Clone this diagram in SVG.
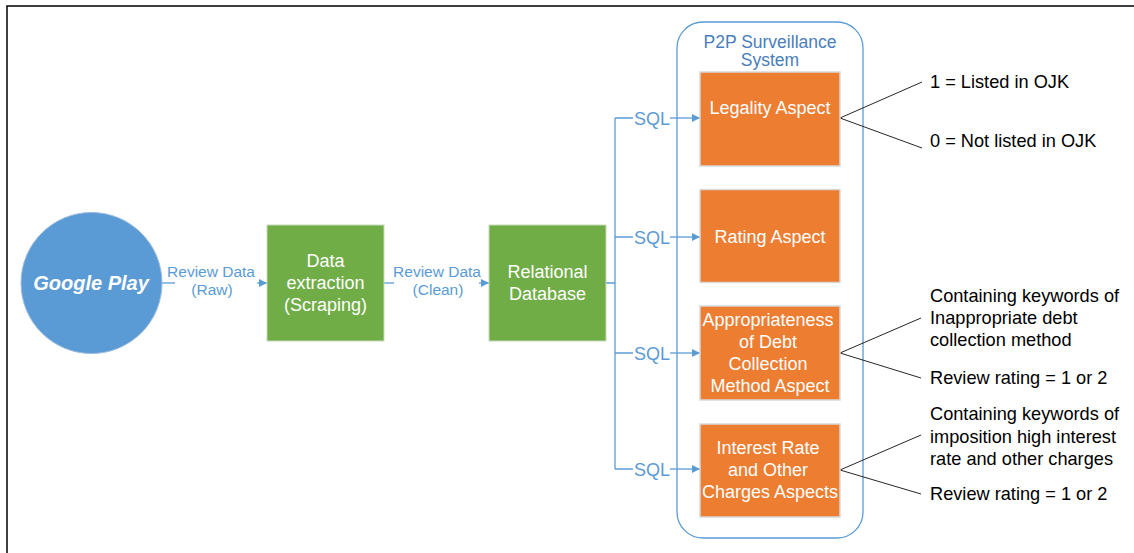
<svg xmlns="http://www.w3.org/2000/svg" width="1134" height="553" viewBox="0 0 1134 553">
<style>
text{font-family:"Liberation Sans",Arial,sans-serif}
.w{fill:#fff;font-size:18px;text-anchor:middle}
.lbl{fill:#5b9bd5;font-size:15.5px;text-anchor:middle}
.sql{fill:#5b9bd5;font-size:18px;text-anchor:middle}
.k{fill:#000;font-size:18.2px}
.c{fill:none;stroke:#5b9bd5;stroke-width:1.3}
.a{fill:none;stroke:#262626;stroke-width:1}
.g{fill:#70ad47;stroke:#c9d9bd;stroke-width:1}
.o{fill:#ed7d31;stroke:#d9d9d9;stroke-width:1.5}
</style>
<defs>
<marker id="ar" viewBox="0 0 10 10" refX="10" refY="5" markerWidth="8" markerHeight="8" markerUnits="userSpaceOnUse" orient="auto">
<path d="M0,0 L10,5 L0,10 Z" fill="#5b9bd5"/>
</marker>
</defs>
<rect width="1134" height="553" fill="#fff"/>
<path d="M7,553 V6 H1134" fill="none" stroke="#000" stroke-width="1.5"/>

<g id="container">
<rect x="677" y="22" width="186" height="516" rx="26" fill="none" stroke="#5b9bd5" stroke-width="1.3"/>
<text x="770" y="48" text-anchor="middle" font-size="17.5" fill="#4a7ebb">P2P Surveillance</text>
<text x="770" y="66" text-anchor="middle" font-size="17.5" fill="#4a7ebb">System</text>
</g>

<g id="connectors">
<path class="c" d="M162,283 H175"/>
<path class="c" d="M257,283 H267" marker-end="url(#ar)"/>
<text class="lbl" x="211" y="277">Review Data</text>
<text class="lbl" x="212" y="295">(Raw)</text>
<path class="c" d="M384,283 H394"/>
<path class="c" d="M479,283 H489" marker-end="url(#ar)"/>
<text class="lbl" x="437" y="277">Review Data</text>
<text class="lbl" x="438" y="295">(Clean)</text>
<path class="c" d="M606,283 H615 M615,118 V469"/>
<path class="c" d="M615,118 H633 M615,237 H633 M615,353 H633 M615,469 H633"/>
<path class="c" d="M670,118 H700" marker-end="url(#ar)"/>
<path class="c" d="M670,237 H700" marker-end="url(#ar)"/>
<path class="c" d="M670,353 H700" marker-end="url(#ar)"/>
<path class="c" d="M670,469 H700" marker-end="url(#ar)"/>
<text class="sql" x="652" y="124.5">SQL</text>
<text class="sql" x="652" y="243.5">SQL</text>
<text class="sql" x="652" y="359.5">SQL</text>
<text class="sql" x="652" y="475.5">SQL</text>
<path class="a" d="M840,118 L922,82 M840,118 L922,148"/>
<path class="a" d="M840,353 L921,318 M840,353 L921,378"/>
<path class="a" d="M840,470 L921,435 M840,470 L921,494"/>
</g>

<g id="google-play">
<circle cx="91.5" cy="283" r="70.5" fill="#5b9bd5" stroke="#9cbde0" stroke-width="1"/>
<text x="91" y="290" text-anchor="middle" font-size="20" font-weight="bold" font-style="italic" fill="#fff">Google Play</text>
</g>

<g id="data-extraction">
<rect class="g" x="267" y="225" width="117" height="116"/>
<text class="w" x="325.5" y="267">Data</text>
<text class="w" x="325.5" y="289">extraction</text>
<text class="w" x="325.5" y="311">(Scraping)</text>
</g>

<g id="relational-database">
<rect class="g" x="489" y="225" width="117" height="116"/>
<text class="w" x="547.5" y="278">Relational</text>
<text class="w" x="547.5" y="300">Database</text>
</g>

<g id="legality-aspect">
<rect class="o" x="700" y="72" width="140" height="94"/>
<text class="w" x="770" y="114">Legality Aspect</text>
</g>

<g id="rating-aspect">
<rect class="o" x="700" y="189.5" width="140" height="93"/>
<text class="w" x="770" y="243">Rating Aspect</text>
</g>

<g id="debt-collection-aspect">
<rect class="o" x="700" y="306" width="140" height="94"/>
<text class="w" x="768" y="326">Appropriateness</text>
<text class="w" x="768" y="348">of Debt</text>
<text class="w" x="768" y="370">Collection</text>
<text class="w" x="770" y="392">Method Aspect</text>
</g>

<g id="interest-rate-aspect">
<rect class="o" x="700" y="424" width="140" height="93"/>
<text class="w" x="768" y="454">Interest Rate</text>
<text class="w" x="768" y="476">and Other</text>
<text class="w" x="770" y="498">Charges Aspects</text>
</g>

<g id="annotations">
<text class="k" x="930" y="88">1 = Listed in OJK</text>
<text class="k" x="930" y="147">0 = Not listed in OJK</text>
<text class="k" x="930" y="302">Containing keywords of</text>
<text class="k" x="930" y="324">Inappropriate debt</text>
<text class="k" x="930" y="346">collection method</text>
<text class="k" x="930" y="384">Review rating = 1 or 2</text>
<text class="k" x="930" y="420">Containing keywords of</text>
<text class="k" x="930" y="443">imposition high interest</text>
<text class="k" x="930" y="465">rate and other charges</text>
<text class="k" x="930" y="500">Review rating = 1 or 2</text>
</g>
</svg>
